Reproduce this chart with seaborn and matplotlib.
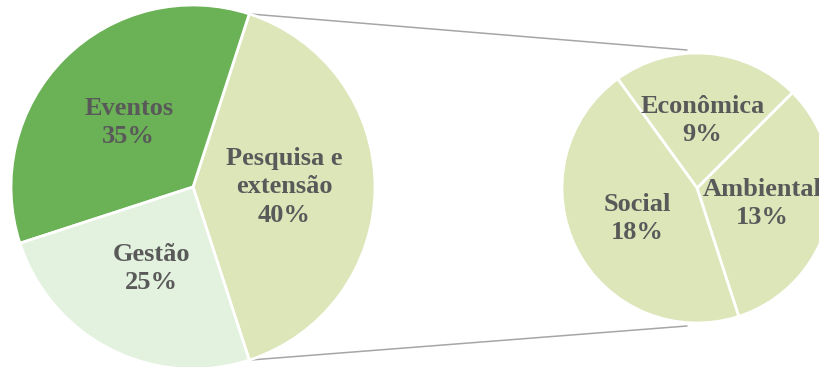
import matplotlib
matplotlib.use("Agg")
import numpy as np
import matplotlib.pyplot as plt
import seaborn as sns

# main pie
main_labels = ["Pesquisa e\nextensão", "Eventos", "Gestão"]
main_values = [40, 35, 25]
main_colors = ["#DCE6B9", "#6BB156", "#E3F2DE"]

# breakdown of "Pesquisa e extensão"
sub_labels = ["Ambiental", "Econômica", "Social"]
sub_values = [13, 9, 18]
sub_colors = ["#DCE6B9", "#DCE6B9", "#DCE6B9"]

sns.set_style("white")
plt.rcParams["font.family"] = ["Liberation Serif", "DejaVu Serif"]

fig = plt.figure(figsize=(8.2, 3.67), dpi=100)
ax = fig.add_axes([0, 0, 1, 1])

txt = dict(color="#595959", fontsize=19, fontweight="bold", linespacing=1.28)


def labeler(labels, values):
    it = iter(zip(labels, values))

    def f(pct):
        name, v = next(it)
        return f"{name}\n{v}%"
    return f


c1, r1 = (193, 180), 182
c2, r2 = (697, 179), 135

w1, t1, a1 = ax.pie(main_values, colors=main_colors, startangle=-72, counterclock=True,
                    center=c1, radius=r1, autopct=labeler(main_labels, main_values),
                    pctdistance=0.5, wedgeprops=dict(edgecolor="white", linewidth=2),
                    textprops=txt)
w2, t2, a2 = ax.pie(sub_values, colors=sub_colors, startangle=-72, counterclock=True,
                    center=c2, radius=r2, autopct=labeler(sub_labels, sub_values),
                    pctdistance=0.5, wedgeprops=dict(edgecolor="white", linewidth=2),
                    textprops=txt)

# connector lines from the split slice to the second pie
w = w1[0]
for ang, sign in [(w.theta2, 1), (w.theta1, -1)]:
    x0 = c1[0] + r1 * np.cos(np.radians(ang))
    y0 = c1[1] + r1 * np.sin(np.radians(ang))
    ax.plot([x0, c2[0] - 10], [y0, c2[1] + sign * (r2 + 3)], color="#A6A6A6", lw=1.1, zorder=0)

ax.set_xlim(0, 820)
ax.set_ylim(0, 367)
ax.set_aspect("equal")
ax.axis("off")

fig.savefig("out.png", dpi=100)
